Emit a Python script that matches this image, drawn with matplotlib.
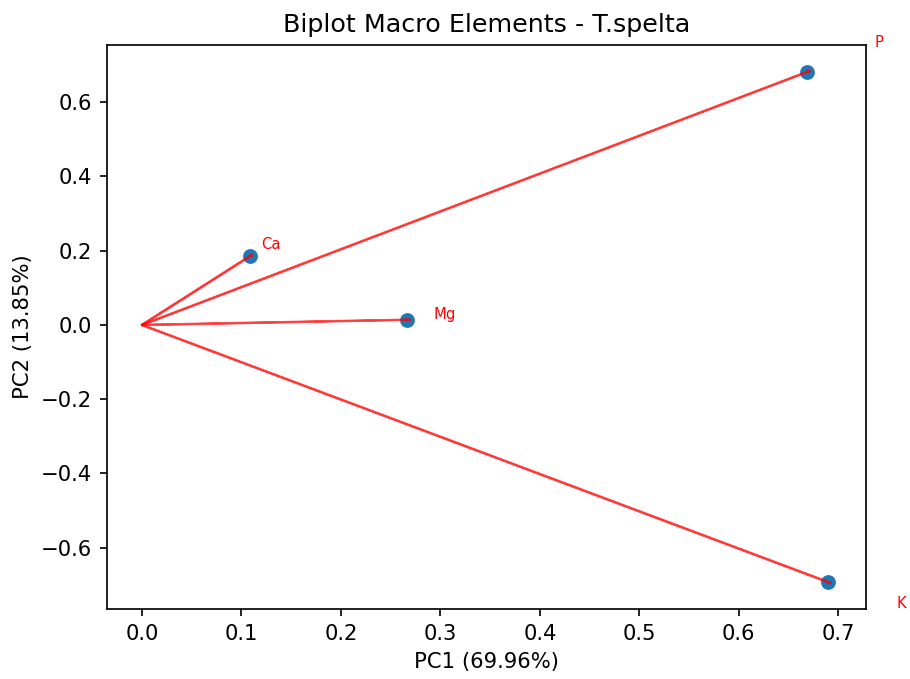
import numpy as np
import matplotlib.pyplot as plt

labels = ['P', 'K', 'Mg', 'Ca']
pc1 = [0.669, 0.690, 0.266, 0.109]
pc2 = [0.682, -0.693, 0.014, 0.186]
var1 = 69.96
var2 = 13.85

fig = plt.figure(figsize=(910 / 152, 679 / 152), dpi=152)
plt.subplots_adjust(left=107 / 910, right=866 / 910, top=1 - 45 / 679, bottom=1 - 609 / 679)

plt.scatter(pc1, pc2)
for i in range(len(labels)):
    plt.arrow(0, 0, pc1[i], pc2[i], color='r', alpha=0.7)
    plt.text(pc1[i] * 1.1, pc2[i] * 1.1, labels[i], color='r', fontsize=7)

plt.xlabel('PC1 ({:.2f}%)'.format(var1))
plt.ylabel('PC2 ({:.2f}%)'.format(var2))
plt.title('Biplot Macro Elements - T.spelta')

plt.savefig('out.png')
